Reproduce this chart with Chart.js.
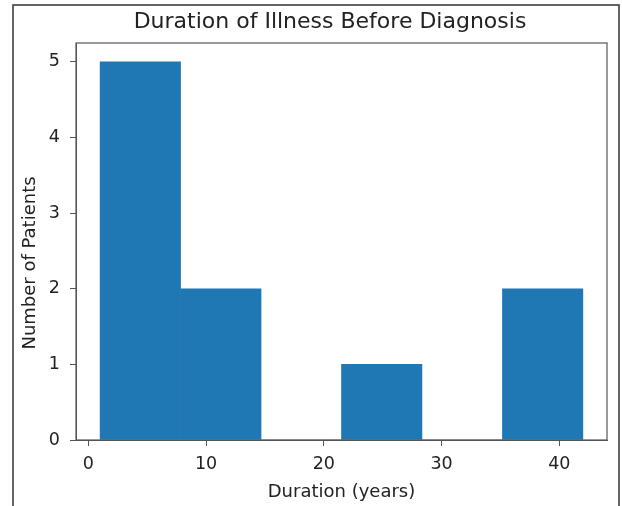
<!DOCTYPE html>
<html>
<head>
<meta charset="utf-8">
<script src="https://cdn.jsdelivr.net/npm/chart.js@4"></script>
<style>
  html, body { margin: 0; padding: 0; background: #fff; }
  #wrap { width: 622px; height: 506px; }
</style>
</head>
<body>
<div id="wrap"><canvas id="chart" width="622" height="506"></canvas></div>
<script>
// histogram of durations (years), 6 bins
const binEdges = [1, 7.83, 14.67, 21.5, 28.33, 35.17, 42]
const counts = [5, 2, 0, 1, 0, 2]
const xTicks = [0, 10, 20, 30, 40]
const yTicks = [0, 1, 2, 3, 4, 5]

const titleText = "Duration of Illness Before Diagnosis"
const xLabel = "Duration (years)"
const yLabel = "Number of Patients"

const FONT = "'DejaVu Sans', sans-serif"
const INK = "#222"
const SPINE = "#555"

const bars = counts.map((c, i) => ({ x: (binEdges[i] + binEdges[i + 1]) / 2, y: c }))

const decor = {
  id: "decor",
  beforeDraw(chart) {
    const ctx = chart.ctx
    ctx.save()
    ctx.fillStyle = "#fff"
    ctx.fillRect(0, 0, chart.width, chart.height)
    // outer frame of the screenshot
    ctx.strokeStyle = "#333"
    ctx.lineWidth = 1.5
    ctx.beginPath()
    ctx.moveTo(13, 506)
    ctx.lineTo(13, 5)
    ctx.lineTo(619, 5)
    ctx.lineTo(619, 506)
    ctx.stroke()
    ctx.restore()
  },
  afterDraw(chart) {
    const { ctx, chartArea: a } = chart
    ctx.save()
    ctx.strokeStyle = SPINE
    ctx.lineWidth = 1.2
    ctx.strokeRect(a.left, a.top, a.right - a.left, a.bottom - a.top)

    ctx.fillStyle = INK
    ctx.textAlign = "center"
    ctx.textBaseline = "middle"
    ctx.font = "22px " + FONT
    ctx.fillText(titleText, 330, 22)

    ctx.font = "18px " + FONT
    ctx.fillText(xLabel, (a.left + a.right) / 2, 492)

    ctx.translate(30, 263)
    ctx.rotate(-Math.PI / 2)
    ctx.fillText(yLabel, 0, 0)
    ctx.restore()
  }
}

new Chart(document.getElementById("chart"), {
  type: "bar",
  data: {
    datasets: [{
      data: bars,
      backgroundColor: "#1f77b4",
      borderWidth: 0,
      barPercentage: 1,
      categoryPercentage: 1,
      grouped: false
    }]
  },
  options: {
    responsive: false,
    animation: false,
    devicePixelRatio: 1,
    layout: { padding: { top: 43, right: 15, left: 0, bottom: 0 } },
    plugins: { legend: { display: false }, tooltip: { enabled: false } },
    scales: {
      x: {
        type: "linear",
        offset: false,
        min: -1.05,
        max: 44.05,
        afterBuildTicks: s => { s.ticks = xTicks.map(v => ({ value: v })) },
        afterFit: s => { s.height = 66 },
        grid: { offset: false, drawOnChartArea: false, drawTicks: true, tickLength: 6, color: SPINE },
        border: { display: true, color: SPINE },
        ticks: { color: INK, font: { family: FONT, size: 17.5 }, padding: 8, maxRotation: 0 }
      },
      y: {
        min: 0,
        max: 5.25,
        afterBuildTicks: s => { s.ticks = yTicks.map(v => ({ value: v })) },
        afterFit: s => { s.width = 76 },
        grid: { drawOnChartArea: false, drawTicks: true, tickLength: 6, color: SPINE },
        border: { display: true, color: SPINE },
        ticks: { color: INK, font: { family: FONT, size: 17.5 }, padding: 10 }
      }
    }
  },
  plugins: [decor]
})
</script>
</body>
</html>
